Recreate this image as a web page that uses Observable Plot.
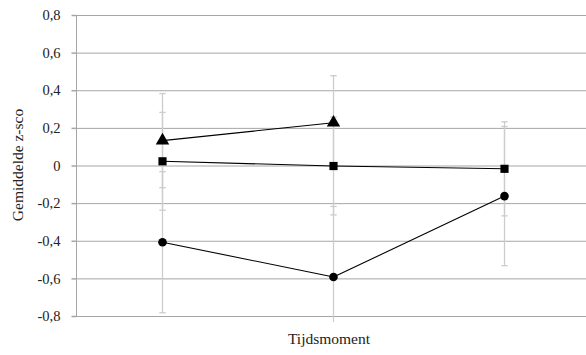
<!DOCTYPE html>
<html>
<head>
<meta charset="utf-8">
<script src="https://cdn.jsdelivr.net/npm/d3@7"></script>
<script src="https://cdn.jsdelivr.net/npm/@observablehq/plot@0.6"></script>
<style>
  html, body { margin: 0; padding: 0; background: #fff; }
  #chart svg { display: block; }
</style>
</head>
<body>
<div id="chart"></div>
<script>
// ---- data ----
const moments = ["1", "2", "3"];
const triangleMeans = [0.135, 0.23];
const triangleErr = [0.25, 0.25];
const squareMeans = [0.025, 0.0, -0.015];
const squareErr = [0.26, 0.26, 0.25];
const circleMeans = [-0.405, -0.59, -0.16];
const circleErr = [0.375, 0.375, 0.37];
const yTicks = [-0.8, -0.6, -0.4, -0.2, 0, 0.2, 0.4, 0.6, 0.8];
const yLabel = "Gemiddelde z-sco";
const xLabel = "Tijdsmoment";

// ---- build table ----
function rows(series, means, errs) {
  return means.map((m, i) => ({series, moment: moments[i], mean: m, lo: m - errs[i], hi: m + errs[i]}));
}
const tri = rows("triangle", triangleMeans, triangleErr);
const sq = rows("square", squareMeans, squareErr);
const circ = rows("circle", circleMeans, circleErr);
const all = [...tri, ...sq, ...circ];

const yMin = -0.8, yMax = 0.8;
const clipLo = yMin - 0.032;
const fmt = d => d === 0 ? "0" : d.toFixed(1).replace(".", ",");

function hline(r) {
  return {
    draw(ctx) {
      ctx.moveTo(-r, 0);
      ctx.lineTo(r, 0);
    }
  };
}

const gridColor = "#a6a6a6";
const errColor = "#cccccc";
const textColor = "#222";
const font = "Liberation Serif";

const chart = Plot.plot({
  width: 586,
  height: 355,
  marginLeft: 76,
  marginRight: 0,
  marginTop: 15,
  marginBottom: 39,
  style: {fontFamily: font, fontSize: "14px", color: textColor, background: "#fff"},
  x: {type: "point", domain: moments, range: [76, 590.5], padding: 0.5, axis: null},
  y: {domain: [yMin, yMax], axis: null},
  marks: [
    // grid lines
    Plot.ruleY(yTicks, {stroke: gridColor, strokeWidth: 1}),
    // plot-area border (left axis line); right edge pushed out of view
    Plot.frame({stroke: gridColor, insetRight: -6}),
    // y ticks
    Plot.dot(yTicks, {y: d => d, frameAnchor: "left", dx: -2.5, symbol: hline(2.5), stroke: gridColor, r: 2}),
    // error bars
    Plot.ruleX(all, {x: "moment", y1: d => Math.max(d.lo, clipLo), y2: "hi", stroke: errColor, strokeWidth: 1.3}),
    Plot.dot(all.filter(d => d.lo >= clipLo), {x: "moment", y: "lo", symbol: hline(3.2), stroke: errColor, strokeWidth: 1.3, r: 3}),
    Plot.dot(all, {x: "moment", y: "hi", symbol: hline(3.2), stroke: errColor, strokeWidth: 1.3, r: 3}),
    // lines
    Plot.line(tri, {x: "moment", y: "mean", stroke: "#000", strokeWidth: 1.1}),
    Plot.line(sq, {x: "moment", y: "mean", stroke: "#000", strokeWidth: 1.1}),
    Plot.line(circ, {x: "moment", y: "mean", stroke: "#000", strokeWidth: 1.1}),
    // markers
    Plot.dot(tri, {x: "moment", y: "mean", symbol: "triangle", fill: "#000", r: 5}),
    Plot.dot(sq, {x: "moment", y: "mean", symbol: "square", fill: "#000", r: 4.6}),
    Plot.dot(circ, {x: "moment", y: "mean", symbol: "circle", fill: "#000", r: 4.3}),
    // y tick labels
    Plot.text(yTicks, {y: d => d, text: fmt, frameAnchor: "left", textAnchor: "end", dx: -16, fill: textColor, fontSize: 14.5, fontFamily: font}),
    // axis titles
    Plot.text([yLabel], {frameAnchor: "left", rotate: -90, textAnchor: "middle", dx: -58, dy: -1, text: d => d, fill: textColor, fontSize: 15.5, fontFamily: font}),
    Plot.text([xLabel], {frameAnchor: "bottom", textAnchor: "middle", dx: -2.5, dy: 27, text: d => d, fill: textColor, fontSize: 15.5, fontFamily: font})
  ]
});

document.getElementById("chart").appendChild(chart);
</script>
</body>
</html>
